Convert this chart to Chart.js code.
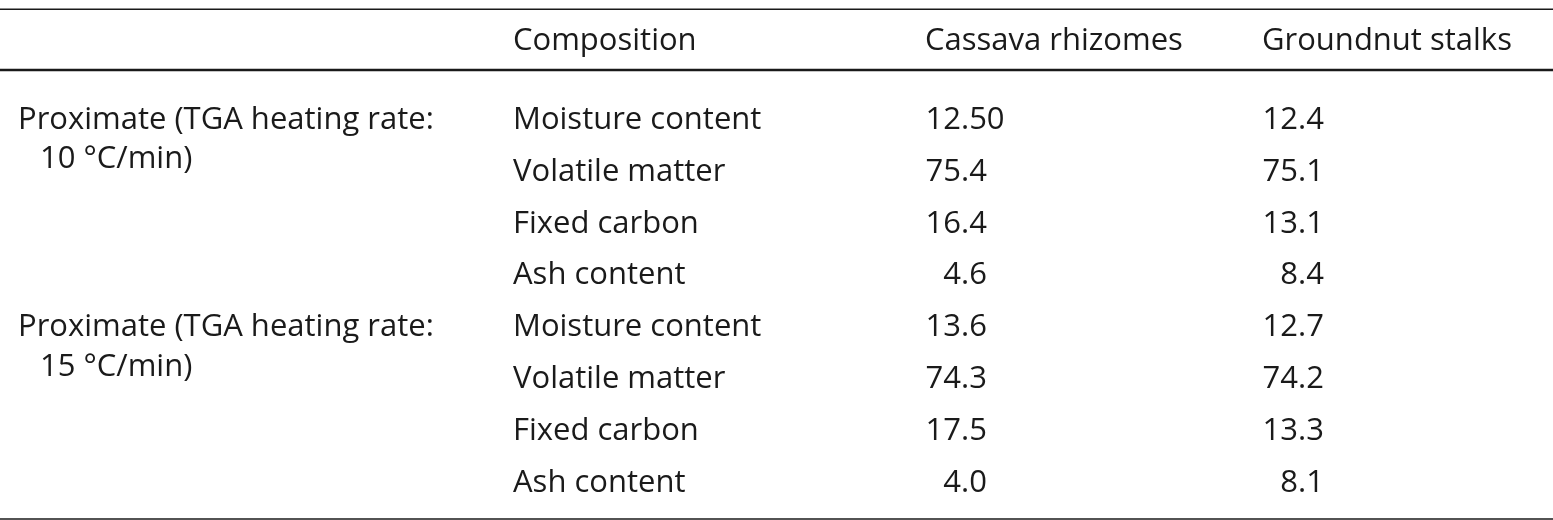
<!DOCTYPE html>
<html>
<head>
<meta charset="utf-8">
<script src="https://cdn.jsdelivr.net/npm/chart.js@4"></script>
<style>
  body { margin: 0; background: #fff; }
  #wrap { width: 1553px; height: 520px; }
</style>
</head>
<body>
<div id="wrap"><canvas id="table-chart"></canvas></div>
<script>
// Table contents
const headers = ['', 'Composition', 'Cassava rhizomes', 'Groundnut stalks'];
const groups = [
    ['Proximate (TGA heating rate:', '10 \u00b0C/min)'],
    ['Proximate (TGA heating rate:', '15 \u00b0C/min)']
];
const compositions = ['Moisture content', 'Volatile matter', 'Fixed carbon', 'Ash content'];
const cassava = ['12.50', '75.4', '16.4', '4.6', '13.6', '74.3', '17.5', '4.0'];
const groundnut = ['12.4', '75.1', '13.1', '8.4', '12.7', '74.2', '13.3', '8.1'];

(function() {
    const FONT = '31px "Open Sans", "Noto Sans", sans-serif';
    const colX = { group: 18, comp: 513, cassavaHead: 925, groundHead: 1262, cassavaDot: 961, groundDot: 1298 };

    // draws decimal-aligned number
    function drawNumber(ctx, text, dotX, y) {
        const i = text.indexOf('.');
        const intPart = i < 0 ? text : text.slice(0, i);
        const rest = i < 0 ? '' : text.slice(i);
        ctx.textAlign = 'right';
        ctx.fillText(intPart, dotX, y);
        ctx.textAlign = 'left';
        ctx.fillText(rest, dotX, y);
    }

    const tablePlugin = {
        id: 'tablePlugin',
        afterDraw(chart) {
            const ctx = chart.ctx;
            const xs = chart.scales.x;
            const ys = chart.scales.y;
            ctx.save();
            ctx.fillStyle = '#1a1a1a';
            ctx.strokeStyle = '#1a1a1a';
            ctx.font = FONT;
            ctx.textBaseline = 'middle';

            function rule(v, w) {
                const y = ys.getPixelForValue(v);
                ctx.lineWidth = w;
                ctx.beginPath();
                ctx.moveTo(xs.getPixelForValue(0), y);
                ctx.lineTo(xs.getPixelForValue(1553), y);
                ctx.stroke();
            }
            rule(-2.1, 1.5);
            rule(-0.93, 2.5);
            rule(7.74, 1.5);

            const hy = ys.getPixelForValue(-1.48);
            ctx.textAlign = 'left';
            ctx.fillText(headers[1], xs.getPixelForValue(colX.comp), hy);
            ctx.fillText(headers[2], xs.getPixelForValue(colX.cassavaHead), hy);
            ctx.fillText(headers[3], xs.getPixelForValue(colX.groundHead), hy);

            groups.forEach((g, gi) => {
                ctx.textAlign = 'left';
                ctx.fillText(g[0], xs.getPixelForValue(colX.group), ys.getPixelForValue(gi * 4 + 0.04));
                ctx.fillText(g[1], xs.getPixelForValue(colX.group + 22), ys.getPixelForValue(gi * 4 + 0.8));
            });

            cassava.forEach((v, r) => {
                const y = ys.getPixelForValue(r + 0.04);
                ctx.textAlign = 'left';
                ctx.fillText(compositions[r % 4], xs.getPixelForValue(colX.comp), y);
                drawNumber(ctx, v, xs.getPixelForValue(colX.cassavaDot), y);
                drawNumber(ctx, groundnut[r], xs.getPixelForValue(colX.groundDot), y);
            });
            ctx.restore();
        }
    };

    new Chart(document.getElementById('table-chart'), {
        type: 'scatter',
        data: { datasets: [{ data: [], pointRadius: 0 }] },
        options: {
            responsive: true,
            maintainAspectRatio: false,
            animation: false,
            layout: { padding: 0 },
            scales: {
                x: { type: 'linear', min: 0, max: 1553, display: false },
                y: { type: 'linear', min: -2.28, max: 7.76, reverse: true, display: false }
            },
            plugins: { legend: { display: false }, tooltip: { enabled: false } }
        },
        plugins: [tablePlugin]
    });
})();
</script>
</body>
</html>
